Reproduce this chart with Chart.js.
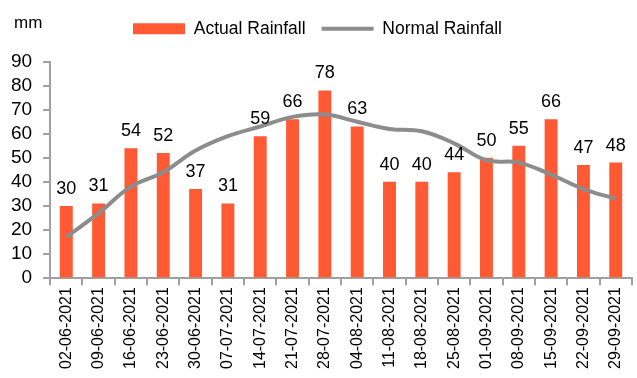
<!DOCTYPE html>
<html>
<head>
<meta charset="utf-8">
<script src="https://cdn.jsdelivr.net/npm/chart.js@4"></script>
<style>
  html, body { margin: 0; padding: 0; background: #fff; }
  #wrap { width: 637px; height: 378px; }
</style>
</head>
<body>
<div id="wrap"><canvas id="rainChart"></canvas></div>
<script>
// Weekly rainfall, mm
const weeks = ["02-06-2021", "09-06-2021", "16-06-2021", "23-06-2021", "30-06-2021", "07-07-2021",
    "14-07-2021", "21-07-2021", "28-07-2021", "04-08-2021", "11-08-2021", "18-08-2021",
    "25-08-2021", "01-09-2021", "08-09-2021", "15-09-2021", "22-09-2021", "29-09-2021"];
const actualRain = [30, 31, 54, 52, 37, 31, 59, 66, 78, 63, 40, 40, 44, 50, 55, 66, 47, 48];
const normalRain = [17, 27, 38, 44, 53, 59, 63, 67, 68, 65, 62, 61, 56, 49, 48, 43, 37, 33];

const FONT = "'Liberation Sans', Arial, sans-serif";
const axisGrey = "#a0a0a0";

// values above the bars + "mm" unit label
const barLabels = {
    id: "barLabels",
    beforeInit(chart) {
        // leave a gap under the legend
        const fit = chart.legend.fit;
        chart.legend.fit = function () {
            fit.bind(chart.legend)();
            this.height += 14;
        };
    },
    afterDatasetsDraw(chart) {
        const ctx = chart.ctx;
        const meta = chart.getDatasetMeta(0);
        ctx.save();
        ctx.fillStyle = "#000";
        ctx.font = "18px " + FONT;
        ctx.textAlign = "center";
        ctx.textBaseline = "bottom";
        meta.data.forEach((bar, i) => {
            ctx.fillText(actualRain[i], bar.x, bar.y - 8);
        });
        ctx.textAlign = "left";
        ctx.textBaseline = "middle";
        ctx.font = "17px " + FONT;
        ctx.fillText("mm", 14, 23);
        ctx.restore();
    }
};

new Chart(document.getElementById("rainChart"), {
    type: "bar",
    data: {
        labels: weeks,
        datasets: [{
            label: "Actual Rainfall",
            data: actualRain,
            backgroundColor: "#ff5a33",
            barPercentage: 0.4,
            categoryPercentage: 1.0,
            order: 2
        }, {
            type: "line",
            label: "Normal Rainfall",
            data: normalRain,
            borderColor: "#8c8c8c",
            backgroundColor: "#8c8c8c",
            borderWidth: 4,
            pointRadius: 0,
            tension: 0.4,
            fill: false,
            order: 1
        }]
    },
    options: {
        responsive: true,
        maintainAspectRatio: false,
        animation: false,
        layout: { padding: { top: 4, right: 2, left: 0, bottom: 7 } },
        plugins: {
            tooltip: { enabled: false },
            legend: {
                position: "top",
                labels: {
                    color: "#000",
                    font: { family: FONT, size: 17.5 },
                    usePointStyle: true,
                    pointStyleWidth: 52,
                    boxHeight: 11,
                    padding: 16,
                    generateLabels(chart) {
                        return chart.data.datasets.map((ds, i) => ({
                            text: ds.label,
                            fillStyle: i === 0 ? ds.backgroundColor : "#8c8c8c",
                            strokeStyle: i === 0 ? ds.backgroundColor : "#8c8c8c",
                            lineWidth: i === 0 ? 0 : 4,
                            pointStyle: i === 0 ? "rect" : "line",
                            datasetIndex: i,
                            hidden: false
                        }));
                    }
                }
            }
        },
        scales: {
            x: {
                grid: {
                    offset: true,
                    drawOnChartArea: false,
                    drawTicks: true,
                    tickLength: 7,
                    color: axisGrey,
                    lineWidth: 2
                },
                border: { color: axisGrey, width: 2 },
                ticks: {
                    color: "#000",
                    font: { family: FONT, size: 16 },
                    minRotation: 90,
                    maxRotation: 90,
                    autoSkip: false,
                    padding: 2
                }
            },
            y: {
                min: 0,
                max: 90,
                grid: {
                    drawOnChartArea: false,
                    drawTicks: true,
                    tickLength: 7,
                    color: axisGrey,
                    lineWidth: 2
                },
                border: { color: axisGrey, width: 2 },
                ticks: {
                    stepSize: 10,
                    autoSkip: false,
                    color: "#000",
                    font: { family: FONT, size: 19 },
                    padding: 11
                }
            }
        }
    },
    plugins: [barLabels]
});
</script>
</body>
</html>
